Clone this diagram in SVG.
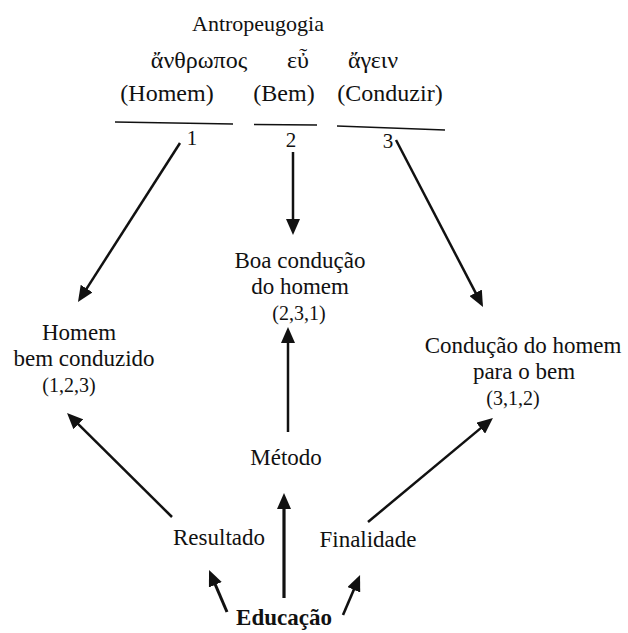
<svg xmlns="http://www.w3.org/2000/svg" width="628" height="633" viewBox="0 0 628 633">
<style>
text{font-family:"Liberation Serif","DejaVu Serif",serif;fill:#111;text-anchor:middle}
.t{font-size:23px}
.h{font-size:24px}
.n{font-size:20px}
.b{font-weight:bold}
.ar{stroke:#111;stroke-width:2.5;fill:none;marker-end:url(#ah)}
.rule{stroke:#111;stroke-width:1.5}
</style>
<defs>
<marker id="ah" viewBox="0 0 16 14" refX="8" refY="7" markerWidth="16" markerHeight="14" markerUnits="userSpaceOnUse" orient="auto">
<path d="M0,0 L16,7 L0,14 z" fill="#111"/>
</marker>
</defs>
<rect width="628" height="633" fill="#fff"/>
<g id="header">
<text x="258" y="31" style="font-size:22px">Antropeugogia</text>
<text class="h" x="199" y="68">ἄνθρωπος</text>
<text class="h" x="298" y="68">εὖ</text>
<text class="h" x="373" y="68">ἄγειν</text>
</g>
<g id="word1">
<text class="h" x="167" y="101">(Homem)</text>
<line class="rule" x1="115" y1="122" x2="233" y2="124"/>
<text x="192" y="145" style="font-size:21px">1</text>
</g>
<g id="word2">
<text class="h" x="284" y="101">(Bem)</text>
<line class="rule" x1="254" y1="124.5" x2="317" y2="125"/>
<text x="291" y="147" style="font-size:21px">2</text>
</g>
<g id="word3">
<text class="h" x="390" y="101">(Conduzir)</text>
<line class="rule" x1="337" y1="126" x2="445" y2="130"/>
<text x="388" y="148" style="font-size:21px">3</text>
</g>
<g id="boa">
<text class="t" x="300" y="268">Boa condução</text>
<text class="t" x="300" y="294">do homem</text>
<text class="n" x="299" y="320">(2,3,1)</text>
</g>
<g id="homem">
<text class="t" x="79" y="340">Homem</text>
<text class="t" x="84" y="366">bem conduzido</text>
<text class="n" x="69" y="392">(1,2,3)</text>
</g>
<g id="conducao">
<text class="t" x="523" y="353">Condução do homem</text>
<text class="t" x="524" y="379">para o bem</text>
<text class="n" x="513" y="405">(3,1,2)</text>
</g>
<g id="metodo"><text class="t" x="286" y="465">Método</text></g>
<g id="resultado"><text class="t" x="219" y="545">Resultado</text></g>
<g id="finalidade"><text class="t" x="368" y="547">Finalidade</text></g>
<g id="educacao"><text class="t b" x="284" y="625">Educação</text></g>
<g id="connectors">
<line class="ar" x1="180" y1="143" x2="82.3" y2="295.3"/>
<line class="ar" x1="293" y1="152" x2="293" y2="227"/>
<line class="ar" x1="396" y1="140" x2="479.3" y2="299.9"/>
<line class="ar" x1="288" y1="432" x2="288" y2="335"/>
<line class="ar" x1="172" y1="517" x2="72.7" y2="418.6"/>
<line class="ar" x1="368" y1="522" x2="486.8" y2="423.1"/>
<line class="ar" style="stroke-width:3.2" x1="284" y1="598" x2="284" y2="501"/>
<line class="ar" style="stroke-width:3" x1="227" y1="612" x2="212.2" y2="577.4"/>
<line class="ar" style="stroke-width:2.6" x1="343" y1="615" x2="356.9" y2="582.4"/>
</g>
</svg>
